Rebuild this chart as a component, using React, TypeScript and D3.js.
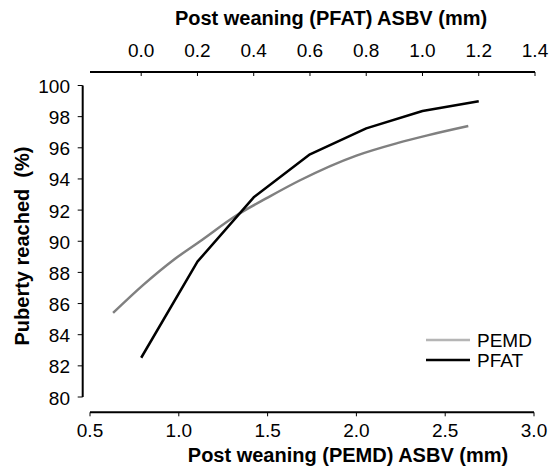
import React from "react";
import * as d3 from "d3";

const pemdX = [0.63, 0.8, 0.97, 1.12, 1.33, 1.5, 1.68, 2.0, 2.23, 2.4, 2.63];
const pemdY = [85.4, 87.2, 88.8, 90.0, 91.7, 92.8, 93.9, 95.5, 96.3, 96.8, 97.4];
const pfatX = [0.0, 0.2, 0.4, 0.6, 0.8, 1.0, 1.2];
const pfatY = [82.52, 88.69, 92.82, 95.58, 97.25, 98.36, 98.99];
const bottomTicks = [0.5, 1.0, 1.5, 2.0, 2.5, 3.0];
const topTicks = [0.0, 0.2, 0.4, 0.6, 0.8, 1.0, 1.2, 1.4];
const yTicks = [80, 82, 84, 86, 88, 90, 92, 94, 96, 98, 100];

const FONT = "'Liberation Sans', Arial, sans-serif";

export default function App() {
  const W = 550, H = 468;
  const xB = d3.scaleLinear().domain([0.5, 3.0]).range([90, 534]);
  const xT = d3.scaleLinear().domain([0.0, 1.4]).range([141.2, 535]);
  const y = d3.scaleLinear().domain([80, 100]).range([397, 85.5]);
  const yAxisX = 82.7;
  const topY = 72;
  const botY = 412.3;

  const pemd = pemdX.map((v, i) => [xB(v), y(pemdY[i])] as [number, number]);
  const pfat = pfatX.map((v, i) => [xT(v), y(pfatY[i])] as [number, number]);
  const smooth = d3.line().curve(d3.curveMonotoneX);
  const straight = d3.line();

  return (
    <svg width={W} height={H} style={{ position: "absolute", left: 0, top: 0, background: "#fff" }} fontFamily={FONT}>
      <rect width={W} height={H} fill="#fff" />
      {/* top axis */}
      <text x={331} y={18} textAnchor="middle" dominantBaseline="central" fontWeight="bold" fontSize={20}>Post weaning (PFAT) ASBV (mm)</text>
      <line x1={90} x2={xT(1.4)} y1={topY} y2={topY} stroke="#000" strokeWidth={2} />
      {topTicks.map((t) => (
        <g key={"t" + t}>
          <line x1={xT(t)} x2={xT(t)} y1={topY} y2={topY + 4} stroke="#000" strokeWidth={1} />
          <text x={xT(t)} y={50} textAnchor="middle" dominantBaseline="central" fontSize={19}>{t.toFixed(1)}</text>
        </g>
      ))}
      {/* bottom axis */}
      <line x1={xB(0.5)} x2={xB(3.0)} y1={botY} y2={botY} stroke="#000" strokeWidth={2} />
      {bottomTicks.map((t) => (
        <g key={"b" + t}>
          <line x1={xB(t)} x2={xB(t)} y1={botY} y2={botY + 4} stroke="#000" strokeWidth={1} />
          <text x={xB(t)} y={430} textAnchor="middle" dominantBaseline="central" fontSize={19}>{t.toFixed(1)}</text>
        </g>
      ))}
      <text x={348} y={455} textAnchor="middle" dominantBaseline="central" fontWeight="bold" fontSize={20}>Post weaning (PEMD) ASBV (mm)</text>
      {/* y axis */}
      <line x1={yAxisX} x2={yAxisX} y1={y(100)} y2={y(80)} stroke="#000" strokeWidth={2} />
      {yTicks.map((t) => (
        <g key={"y" + t}>
          <line x1={yAxisX - 5} x2={yAxisX} y1={y(t)} y2={y(t)} stroke="#000" strokeWidth={1} />
          <text x={70} y={y(t) + 1} textAnchor="end" dominantBaseline="central" fontSize={19}>{t}</text>
        </g>
      ))}
      <text transform={`translate(22,246) rotate(-90)`} textAnchor="middle" dominantBaseline="central" fontWeight="bold" fontSize={20} style={{ whiteSpace: "pre" }}>Puberty reached  (%)</text>
      {/* series */}
      <path d={smooth(pemd) || ""} fill="none" stroke="#808080" strokeWidth={2.5} />
      <path d={straight(pfat) || ""} fill="none" stroke="#000" strokeWidth={2.5} strokeLinejoin="round" />
      {/* legend */}
      <line x1={426} x2={470} y1={340} y2={340} stroke="#b5b5b5" strokeWidth={2.5} />
      <text x={477} y={340} dominantBaseline="central" fontSize={19}>PEMD</text>
      <line x1={426} x2={470} y1={360} y2={360} stroke="#000" strokeWidth={2.5} />
      <text x={477} y={360} dominantBaseline="central" fontSize={19}>PFAT</text>
    </svg>
  );
}
